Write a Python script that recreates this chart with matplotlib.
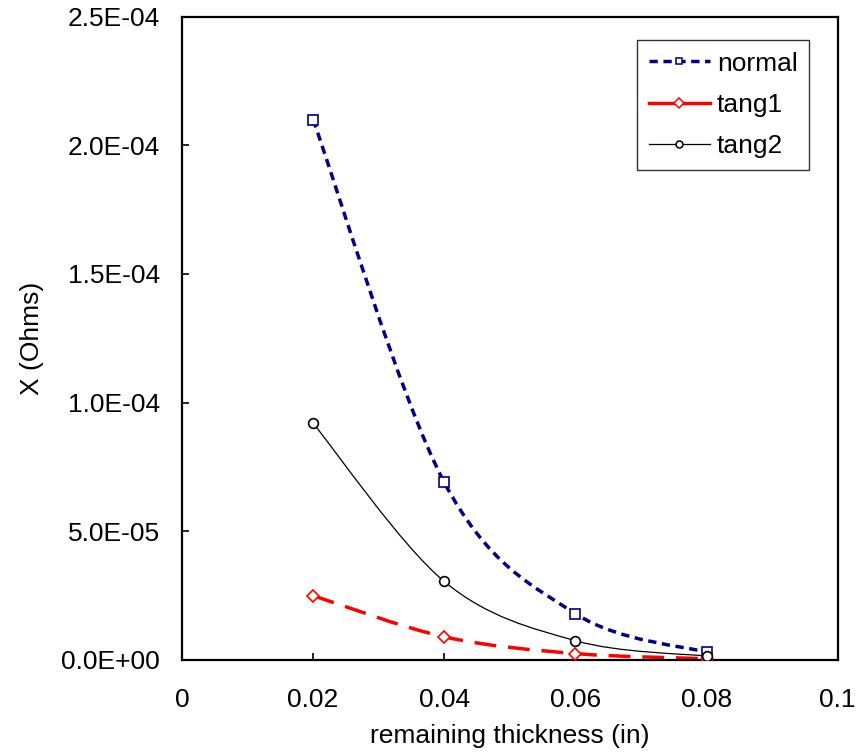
import numpy as np
import matplotlib
matplotlib.use("Agg")
import matplotlib.pyplot as plt
from matplotlib.path import Path
from matplotlib.patches import PathPatch
from matplotlib.lines import Line2D
import matplotlib.ticker as mtick

plt.rcParams['font.family'] = ['Liberation Sans', 'DejaVu Sans']

thickness = [0.02, 0.04, 0.06, 0.08]
normal = [2.10e-4, 6.9e-5, 1.8e-5, 3.0e-6]
tang1 = [2.5e-5, 9.0e-6, 2.5e-6, 5.0e-7]
tang2 = [9.2e-5, 3.05e-5, 7.5e-6, 1.5e-6]


def smooth_path(x, y):
    # Excel-style smoothed line: cubic Bezier through the points (Catmull-Rom)
    p = np.column_stack([x, y])
    verts = [p[0]]
    codes = [Path.MOVETO]
    n = len(p)
    for i in range(n - 1):
        p0 = p[i - 1] if i > 0 else p[i]
        p3 = p[i + 2] if i + 2 < n else p[i + 1]
        c1 = p[i] + (p[i + 1] - p0) / 6
        c2 = p[i + 1] - (p3 - p[i]) / 6
        verts += [c1, c2, p[i + 1]]
        codes += [Path.CURVE4] * 3
    return Path(verts, codes)


fig = plt.figure(figsize=(8.64, 7.56), dpi=100)
ax = fig.add_axes([0.2106, 0.127, 0.759, 0.851])

series = [
    ('normal', normal, '#000080', (0, (2.4, 1.6)), 2.5, 's'),
    ('tang1', tang1, '#ff0000', (0, (6.3, 3.4)), 2.5, 'D'),
    ('tang2', tang2, '#000000', '-', 0.9, 'o'),
]

handles = []
for name, vals, col, ls, lw, mk in series:
    patch = PathPatch(smooth_path(thickness, vals), facecolor='none', edgecolor=col,
                      linestyle=ls, linewidth=lw, capstyle='butt', zorder=2)
    ax.add_patch(patch)
    ms = 7 if mk != 'D' else 6.5
    ax.plot(thickness, vals, linestyle='none', marker=mk, markersize=ms,
            markerfacecolor='white', markeredgecolor=col, markeredgewidth=1.2, zorder=3)
    hls = ls if mk != 'D' else '-'
    handles.append(Line2D([], [], color=col, linestyle=hls, linewidth=lw, marker=mk,
                          markersize=5, markerfacecolor='white', markeredgecolor=col,
                          markeredgewidth=1.1, label=name))

ax.set_xlim(0, 0.1)
ax.set_ylim(0, 2.5e-4)
ax.set_xticks([0, 0.02, 0.04, 0.06, 0.08, 0.1])
ax.set_yticks(np.arange(0, 2.51e-4, 5e-5))
ax.xaxis.set_major_formatter(mtick.FuncFormatter(lambda v, p: f"{v:g}"))
ax.yaxis.set_major_formatter(mtick.FuncFormatter(lambda v, p: f"{v:.1E}"))
ax.tick_params(direction='in', length=5, width=1.2, labelsize=19, pad=16)
ax.tick_params(axis='x', pad=20)
ax.tick_params(top=False, right=False)
for s in ax.spines.values():
    s.set_linewidth(1.6)

ax.set_xlabel('remaining thickness (in)', fontsize=19, labelpad=9)
ax.set_ylabel('X (Ohms)', fontsize=19, labelpad=12)

leg = ax.legend(handles=handles, loc='upper left', bbox_to_anchor=(0.694, 0.964),
                borderaxespad=0, fontsize=19, frameon=True, fancybox=False, numpoints=1,
                handlelength=2.3, handletextpad=0.27, borderpad=0.45, labelspacing=0.65)
leg.get_frame().set_edgecolor('black')
leg.get_frame().set_linewidth(1.0)

fig.savefig('out.png', dpi=100)
